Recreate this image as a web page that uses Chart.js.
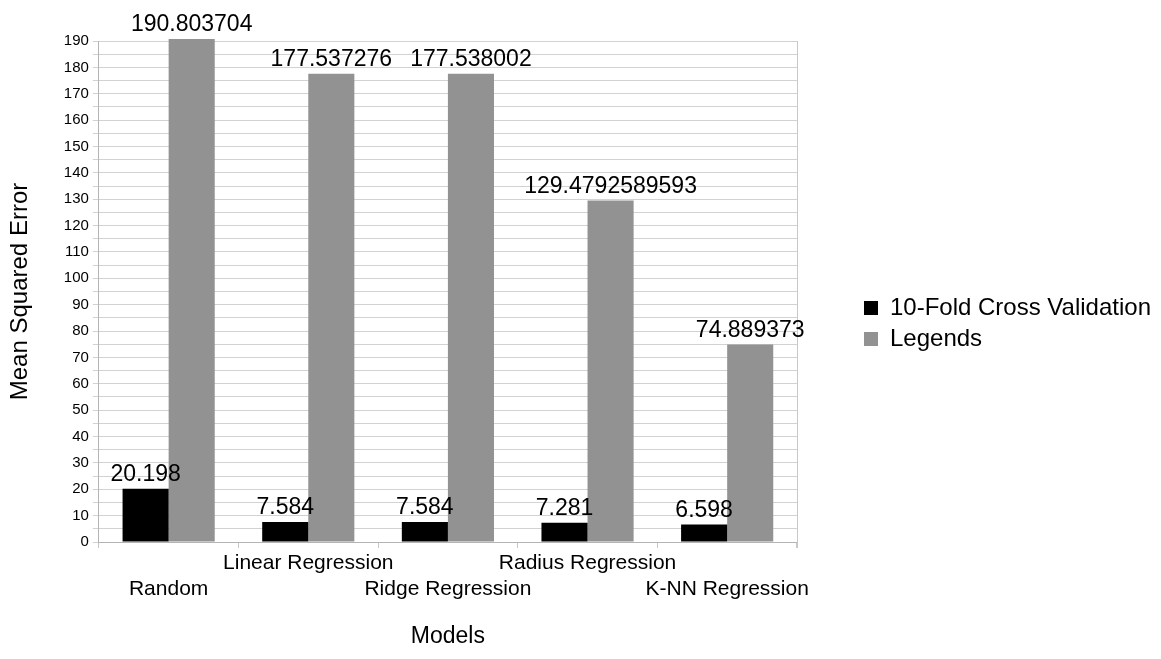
<!DOCTYPE html>
<html>
<head>
<meta charset="utf-8">
<script src="https://cdn.jsdelivr.net/npm/chart.js@4/dist/chart.umd.min.js"></script>
<style>
  html, body { margin: 0; padding: 0; background: #fff; }
  #wrap { width: 1161px; height: 659px; }
</style>
</head>
<body>
<div id="wrap"><canvas id="mseChart" width="1161" height="659"></canvas></div>
<script>
let ctx = document.getElementById("mseChart").getContext("2d");

const models = ["Random", "Linear Regression", "Ridge Regression", "Radius Regression", "K-NN Regression"];
const crossValidation = [20.198, 7.584, 7.584, 7.281, 6.598];
const legends = [190.803704, 177.537276, 177.538002, 129.4792589593, 74.889373];
const yMax = 190;
const yStep = 5;

const fontName = "'Liberation Sans', Arial, sans-serif";

// value labels above each bar
const barValues = {
  id: "barValues",
  afterDatasetsDraw(chart) {
    let c = chart.ctx;
    c.save();
    c.font = "23px " + fontName;
    c.fillStyle = "#000";
    c.textAlign = "center";
    c.textBaseline = "alphabetic";
    chart.data.datasets.forEach((ds, i) => {
      chart.getDatasetMeta(i).data.forEach((bar, j) => {
        c.fillText(String(ds.data[j]), bar.x, bar.y - 8);
      });
    });
    c.restore();
  },
};

// right border of the plot + nudge legend up a bit
const rightEdge = {
  id: "rightEdge",
  afterLayout(chart) {
    chart.legend.top -= 22;
    chart.legend.bottom -= 22;
  },
  beforeDatasetsDraw(chart) {
    let a = chart.chartArea;
    let c = chart.ctx;
    c.save();
    c.strokeStyle = "#c8c8c8";
    c.lineWidth = 1;
    c.beginPath();
    c.moveTo(a.right + 0.5, a.top);
    c.lineTo(a.right + 0.5, a.bottom + 6);
    c.stroke();
    c.restore();
  },
};

var mseChart = new Chart(ctx, {
  type: "bar",
  data: {
    labels: models,
    datasets: [
      {
        label: "10-Fold Cross Validation",
        data: crossValidation,
        backgroundColor: "#000000",
        borderWidth: 0,
        clip: false,
      },
      {
        label: "Legends",
        data: legends,
        backgroundColor: "#929292",
        borderWidth: 0,
        clip: false,
      },
    ],
  },
  plugins: [barValues, rightEdge],
  options: {
    responsive: false,
    animation: false,
    categoryPercentage: 0.66,
    barPercentage: 1,
    layout: { padding: { top: 41, right: 0, left: 6, bottom: 9 } },
    plugins: {
      tooltip: { enabled: false },
      legend: {
        position: "right",
        align: "center",
        maxWidth: 420,
        labels: {
          boxWidth: 14,
          boxHeight: 14,
          padding: 7,
          color: "#000",
          font: { family: fontName, size: 24 },
        },
      },
    },
    scales: {
      x: {
        grid: {
          drawOnChartArea: false,
          offset: true,
          tickLength: 6,
          color: "#c8c8c8",
        },
        border: { color: "#b4b4b4" },
        ticks: {
          color: "#000",
          font: { family: fontName, size: 21 },
          padding: 3,
          maxRotation: 0,
          autoSkip: false,
          callback: function (value, index) {
            let name = models[index];
            return index % 2 === 0 ? ["", name] : [name, ""];
          },
        },
        title: {
          display: true,
          text: "Models",
          color: "#000",
          font: { family: fontName, size: 23 },
          padding: { top: 18, bottom: 0 },
        },
      },
      y: {
        min: 0,
        max: yMax,
        grid: { color: "#d2d2d2", tickLength: 6 },
        border: { color: "#b4b4b4" },
        ticks: {
          stepSize: yStep,
          autoSkip: false,
          maxTicksLimit: 100,
          color: "#000",
          font: { family: fontName, size: 15 },
          padding: 4,
          callback: function (value) {
            return value % 10 === 0 ? value : "";
          },
        },
        title: {
          display: true,
          text: "Mean Squared Error",
          color: "#000",
          font: { family: fontName, size: 24 },
          padding: { top: 0, bottom: 25 },
        },
      },
      // empty spacer between plot and legend
      spacer: {
        position: "right",
        grid: { display: false },
        border: { display: false },
        ticks: { display: false },
        afterFit(scale) {
          scale.width = 60;
        },
      },
    },
  },
});
</script>
</body>
</html>
